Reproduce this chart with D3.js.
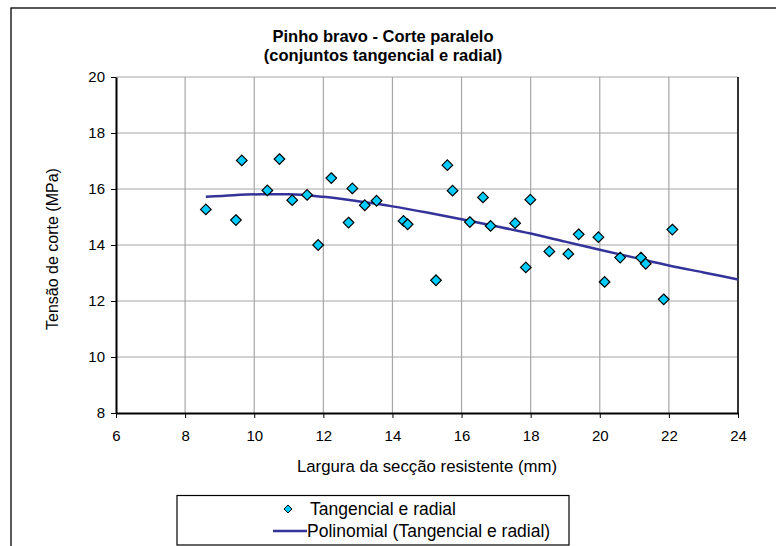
<!DOCTYPE html>
<html><head><meta charset="utf-8">
<script src="https://cdn.jsdelivr.net/npm/d3@7"></script>
<style>body{margin:0;background:#fff}svg{display:block}text{font-family:"Liberation Sans",Arial,sans-serif}</style>
</head><body><svg id="c" width="776" height="546"></svg>
<script>
const pointX = [8.6,9.47,9.64,10.38,10.73,11.1,11.53,11.85,12.23,12.73,12.84,13.2,13.54,14.32,14.44,15.26,15.59,15.74,16.24,16.62,16.84,17.55,17.86,17.99,18.54,19.09,19.39,19.96,20.14,20.59,21.19,21.33,21.85,22.1];
const pointY = [15.27,14.89,17.02,15.95,17.07,15.6,15.79,14.0,16.39,14.8,16.02,15.42,15.58,14.86,14.74,12.74,16.85,15.94,14.82,15.7,14.68,14.78,13.2,15.62,13.77,13.68,14.38,14.28,12.68,13.55,13.55,13.33,12.06,14.55];
const trendX = [8.6,9.4,10.2,11.0,12.0,13.0,14.0,15.0,16.0,17.0,18.0,19.0,20.0,21.0,22.0,23.0,24.0];
const trendY = [15.72,15.78,15.81,15.81,15.72,15.56,15.38,15.16,14.92,14.67,14.41,14.12,13.83,13.55,13.27,13.02,12.77];
const xTicks = [6,8,10,12,14,16,18,20,22,24];
const yTicks = [8,10,12,14,16,18,20];
const titleLines = ["Pinho bravo - Corte paralelo","(conjuntos tangencial e radial)"];
const xTitle = "Largura da secção resistente (mm)";
const yTitle = "Tensão de corte (MPa)";
const legendLabels = ["Tangencial e radial","Polinomial (Tangencial e radial)"];

const svg = d3.select("#c");
const L=116,R=738,T=77,B=413;
const x = d3.scaleLinear().domain([6,24]).range([L,R]);
const y = d3.scaleLinear().domain([8,20]).range([B,T]);

// outer frame
svg.append("rect").attr("x",11).attr("y",8).attr("width",780).attr("height",560)
  .attr("fill","#fff").attr("stroke","#000").attr("stroke-width",1.3);

// title
svg.append("text").attr("text-anchor","middle")
  .attr("font-weight","bold").attr("font-size",16.5)
  .selectAll("tspan").data(titleLines).join("tspan")
  .attr("x",383).attr("y",(d,i)=>42+i*19).text(d=>d);

// grid
const g = svg.append("g");
g.selectAll(".gx").data(xTicks.slice(1)).join("line")
  .attr("x1",d=>x(d)).attr("x2",d=>x(d)).attr("y1",T).attr("y2",B)
  .attr("stroke","#a6a6a6").attr("stroke-width",1.2);
g.selectAll(".gy").data(yTicks.slice(1)).join("line")
  .attr("x1",L).attr("x2",R).attr("y1",d=>y(d)).attr("y2",d=>y(d))
  .attr("stroke","#a6a6a6").attr("stroke-width",1.2);
// right border
svg.append("line").attr("x1",R).attr("x2",R).attr("y1",T).attr("y2",B).attr("stroke","#000").attr("stroke-width",1.5);

// axes
const xa = svg.append("g").attr("transform",`translate(0,${B})`)
  .call(d3.axisBottom(x).tickValues(xTicks).tickSize(5).tickSizeOuter(0).tickPadding(12));
const ya = svg.append("g").attr("transform",`translate(${L},0)`)
  .call(d3.axisLeft(y).tickValues(yTicks).tickSize(5).tickSizeOuter(0).tickPadding(6));
[xa,ya].forEach(a=>{
  a.select(".domain").attr("stroke","#000").attr("stroke-width",2);
  a.selectAll(".tick line").attr("stroke","#000").attr("stroke-width",1);
  a.selectAll("text").attr("font-size",15).attr("fill","#000").attr("font-family","Liberation Sans, Arial, sans-serif");
});

// trend line
svg.append("path").datum(trendX.map((v,i)=>[v,trendY[i]]))
  .attr("d",d3.line().x(d=>x(d[0])).y(d=>y(d[1])).curve(d3.curveMonotoneX))
  .attr("fill","none").attr("stroke","#333399").attr("stroke-width",2.5);

// points
const diamond = d3.symbol().type(d3.symbolDiamond2).size(72);
svg.append("g").selectAll("path").data(pointX.map((v,i)=>[v,pointY[i]])).join("path")
  .attr("transform",d=>`translate(${x(d[0])},${y(d[1])})`)
  .attr("d",diamond).attr("fill","#00ccff").attr("stroke","#000").attr("stroke-width",1.2);

// axis titles
svg.append("text").attr("x",(L+R)/2).attr("y",472).attr("text-anchor","middle").attr("font-size",16.8).text(xTitle);
svg.append("text").attr("transform","translate(58,249) rotate(-90)").attr("text-anchor","middle").attr("font-size",16).text(yTitle);

// legend
svg.append("rect").attr("x",177).attr("y",495.5).attr("width",392).attr("height",49.5)
  .attr("fill","#fff").attr("stroke","#000").attr("stroke-width",1.2);
svg.append("path").attr("transform","translate(288,509)").attr("d",d3.symbol().type(d3.symbolDiamond2).size(40))
  .attr("fill","#00ccff").attr("stroke","#000").attr("stroke-width",1);
svg.append("line").attr("x1",273).attr("x2",307).attr("y1",531).attr("y2",531).attr("stroke","#333399").attr("stroke-width",2.5);
svg.append("text").attr("x",310).attr("y",515).attr("font-size",17.5).text(legendLabels[0]);
svg.append("text").attr("x",307).attr("y",537).attr("font-size",17.5).text(legendLabels[1]);
</script></body></html>
